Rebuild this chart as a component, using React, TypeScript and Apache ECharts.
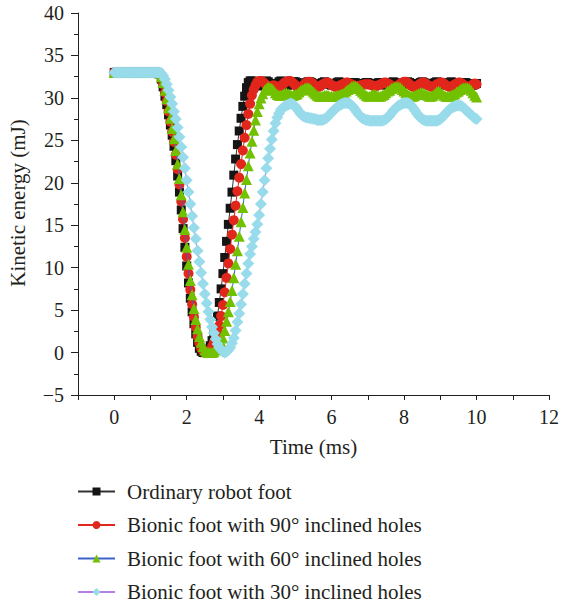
import React, { useEffect, useRef } from "react";
import * as echarts from "echarts";

const TIME_STEP_MS = 0.05;

const seriesNames = [
  "Ordinary robot foot",
  "Bionic foot with 90° inclined holes",
  "Bionic foot with 60° inclined holes",
  "Bionic foot with 30° inclined holes",
];

// Kinetic energy (mJ), sampled every 0.05 ms from 0 to 10 ms
const ordinaryFoot = [
  33.0, 33.0, 33.0, 33.0, 33.0, 33.0, 33.0, 33.0, 33.0, 33.0,
  33.0, 33.0, 33.0, 33.0, 33.0, 33.0, 33.0, 33.0, 33.0, 33.0,
  33.0, 33.0, 33.0, 33.0, 33.0, 32.8, 32.2, 31.3, 30.2, 29.2,
  28.0, 26.8, 25.6, 24.3, 22.6, 20.8, 18.9, 16.8, 14.6, 12.4,
  10.2, 8.2, 6.4, 4.8, 3.4, 2.2, 1.2, 0.5, 0.15, 0.0,
  0.0, 0.1, 0.4, 0.8, 1.4, 2.1, 2.8, 4.3, 5.9, 7.5,
  9.3, 11.2, 13.1, 15.1, 17.0, 18.9, 20.9, 22.8, 24.5, 26.1,
  27.6, 29.0, 30.2, 31.2, 31.8, 32.0, 32.0, 31.9, 31.7, 31.5,
  31.4, 31.5, 31.7, 31.9, 32.0, 31.9, 31.7, 31.5, 31.4, 31.5,
  31.7, 31.9, 32.0, 31.9, 31.7, 31.5, 31.5, 31.6, 31.8, 31.9,
  31.9, 31.8, 31.6, 31.5, 31.5, 31.6, 31.8, 31.9, 31.9, 31.8,
  31.6, 31.5, 31.5, 31.6, 31.7, 31.8, 31.9, 31.8, 31.7, 31.6,
  31.5, 31.6, 31.7, 31.8, 31.9, 31.8, 31.7, 31.6, 31.5, 31.6,
  31.7, 31.8, 31.8, 31.8, 31.7, 31.6, 31.6, 31.6, 31.7, 31.8,
  31.8, 31.7, 31.6, 31.6, 31.6, 31.7, 31.8, 31.8, 31.7, 31.6,
  31.5, 31.6, 31.7, 31.8, 31.9, 31.8, 31.7, 31.6, 31.5, 31.6,
  31.7, 31.8, 31.9, 31.8, 31.7, 31.6, 31.5, 31.6, 31.7, 31.8,
  31.9, 31.8, 31.7, 31.6, 31.5, 31.6, 31.7, 31.8, 31.9, 31.8,
  31.7, 31.6, 31.5, 31.6, 31.7, 31.8, 31.9, 31.8, 31.7, 31.6,
  31.5, 31.6, 31.7, 31.8, 31.8, 31.7, 31.6, 31.5, 31.5, 31.6,
  31.7,
];

const holes90 = [
  33.0, 33.0, 33.0, 33.0, 33.0, 33.0, 33.0, 33.0, 33.0, 33.0,
  33.0, 33.0, 33.0, 33.0, 33.0, 33.0, 33.0, 33.0, 33.0, 33.0,
  33.0, 33.0, 33.0, 33.0, 33.0, 32.9, 32.4, 31.6, 30.6, 29.6,
  28.4, 27.2, 26.0, 24.8, 23.3, 21.6, 19.8, 17.8, 15.7, 13.5,
  11.3, 9.3, 7.4, 5.7, 4.2, 3.0, 1.9, 1.1, 0.5, 0.2,
  0.0, 0.0, 0.1, 0.3, 0.7, 1.2, 1.8, 2.5, 3.2, 4.3,
  5.6, 7.1, 8.8, 10.5, 12.2, 13.9, 15.6, 17.3, 19.0, 20.6,
  22.2, 23.8, 25.3, 26.8, 28.1, 29.3, 30.3, 31.0, 31.5, 31.9,
  32.0, 32.0, 31.9, 31.7, 31.5, 31.3, 31.3, 31.4, 31.5, 31.4,
  31.3, 31.3, 31.4, 31.6, 31.8, 31.9, 32.0, 32.0, 31.9, 31.7,
  31.5, 31.3, 31.2, 31.3, 31.4, 31.6, 31.8, 31.9, 31.9, 31.8,
  31.6, 31.4, 31.3, 31.3, 31.4, 31.6, 31.7, 31.8, 31.8, 31.7,
  31.5, 31.4, 31.3, 31.3, 31.4, 31.5, 31.6, 31.7, 31.8, 31.8,
  31.7, 31.6, 31.5, 31.4, 31.4, 31.4, 31.5, 31.5, 31.6, 31.6,
  31.6, 31.6, 31.5, 31.4, 31.4, 31.4, 31.5, 31.6, 31.7, 31.8,
  31.8, 31.7, 31.6, 31.4, 31.3, 31.3, 31.4, 31.5, 31.7, 31.8,
  31.9, 31.9, 31.8, 31.6, 31.4, 31.3, 31.3, 31.4, 31.5, 31.7,
  31.8, 31.8, 31.7, 31.5, 31.4, 31.3, 31.3, 31.4, 31.6, 31.7,
  31.8, 31.8, 31.7, 31.5, 31.4, 31.3, 31.3, 31.4, 31.6, 31.7,
  31.8, 31.8, 31.7, 31.5, 31.4, 31.3, 31.3, 31.4, 31.6, 31.7,
  31.6,
];

const holes60 = [
  33.0, 33.0, 33.0, 33.0, 33.0, 33.0, 33.0, 33.0, 33.0, 33.0,
  33.0, 33.0, 33.0, 33.0, 33.0, 33.0, 33.0, 33.0, 33.0, 33.0,
  33.0, 33.0, 33.0, 33.0, 33.0, 32.9, 32.5, 31.8, 30.9, 29.9,
  28.8, 27.6, 26.4, 25.2, 23.8, 22.2, 20.5, 18.6, 16.6, 14.5,
  12.4, 10.4, 8.5, 6.8, 5.2, 3.9, 2.8, 1.9, 1.2, 0.7,
  0.3, 0.1, 0.0, 0.0, 0.0, 0.1, 0.3, 0.6, 0.9, 1.2,
  1.7, 2.6, 3.7, 4.8, 6.0, 7.3, 8.8, 10.4, 12.0, 13.7,
  15.4, 17.1, 18.8, 20.4, 22.0, 23.5, 24.9, 26.2, 27.4, 28.4,
  29.3, 30.0, 30.5, 30.9, 31.1, 31.3, 31.2, 31.1, 30.9, 30.6,
  30.4, 30.3, 30.3, 30.4, 30.5, 30.6, 30.5, 30.4, 30.3, 30.3,
  30.4, 30.5, 30.7, 30.9, 31.0, 31.1, 31.2, 31.2, 31.1, 30.9,
  30.7, 30.5, 30.3, 30.2, 30.2, 30.2, 30.3, 30.3, 30.3, 30.2,
  30.2, 30.2, 30.2, 30.3, 30.3, 30.4, 30.5, 30.6, 30.8, 31.0,
  31.1, 31.3, 31.4, 31.4, 31.3, 31.1, 30.9, 30.7, 30.5, 30.3,
  30.2, 30.2, 30.3, 30.4, 30.4, 30.3, 30.2, 30.2, 30.3, 30.4,
  30.6, 30.8, 30.9, 31.1, 31.2, 31.3, 31.3, 31.3, 31.2, 31.0,
  30.8, 30.6, 30.4, 30.3, 30.2, 30.2, 30.3, 30.4, 30.5, 30.6,
  30.6, 30.5, 30.4, 30.3, 30.2, 30.2, 30.3, 30.5, 30.7, 30.8,
  30.7, 30.5, 30.3, 30.2, 30.2, 30.2, 30.3, 30.4, 30.5, 30.7,
  30.8, 31.0, 31.1, 31.2, 31.2, 31.2, 31.1, 30.9, 30.6, 30.3,
  30.1,
];

const holes30 = [
  33.0, 33.0, 33.0, 33.0, 33.0, 33.0, 33.0, 33.0, 33.0, 33.0,
  33.0, 33.0, 33.0, 33.0, 33.0, 33.0, 33.0, 33.0, 33.0, 33.0,
  33.0, 33.0, 33.0, 33.0, 33.0, 33.0, 32.9, 32.6, 32.2, 31.6,
  30.9, 30.1, 29.3, 28.4, 27.5, 26.5, 25.4, 24.2, 23.0, 21.7,
  20.3, 18.9, 17.5, 16.1, 14.7, 13.4, 12.0, 10.7, 9.4, 8.1,
  6.9, 5.8, 4.8, 3.9, 3.0, 2.3, 1.6, 1.0, 0.6, 0.3,
  0.1, 0.0, 0.1, 0.3, 0.6, 1.1, 1.7, 2.6, 3.6, 4.6,
  5.7, 6.9, 8.1, 9.3, 10.5, 11.6, 12.5, 13.4, 14.2, 15.1,
  16.2, 17.5, 18.9, 20.3, 21.7, 22.9, 24.0, 25.1, 26.1, 27.0,
  27.7, 28.2, 28.6, 28.8, 29.0, 29.1, 29.2, 29.3, 29.3, 29.2,
  29.0, 28.7, 28.4, 28.1, 27.9, 27.8, 27.7, 27.7, 27.6, 27.6,
  27.5, 27.5, 27.4, 27.4, 27.4, 27.4, 27.5, 27.6, 27.8, 28.0,
  28.3, 28.5, 28.7, 28.9, 29.1, 29.2, 29.3, 29.4, 29.4, 29.4,
  29.3, 29.1, 28.9, 28.6, 28.3, 28.0, 27.8, 27.6, 27.5, 27.4,
  27.4, 27.3, 27.3, 27.3, 27.3, 27.3, 27.3, 27.3, 27.3, 27.4,
  27.5, 27.7, 27.9, 28.2, 28.5, 28.7, 28.9, 29.1, 29.2, 29.3,
  29.4, 29.4, 29.4, 29.3, 29.1, 28.8, 28.5, 28.2, 27.9, 27.7,
  27.5, 27.4, 27.3, 27.3, 27.3, 27.3, 27.3, 27.3, 27.3, 27.4,
  27.5, 27.7, 27.9, 28.2, 28.4, 28.6, 28.8, 28.9, 29.0, 29.1,
  29.1, 29.1, 29.0, 28.8, 28.6, 28.4, 28.2, 28.0, 27.8, 27.6,
  27.5,
];

const seriesValues = [ordinaryFoot, holes90, holes60, holes30];
const symbols = ["rect", "circle", "triangle", "diamond"];
const symbolSizes = [9, 10, 11, 12];
const markerColors = ["#151515", "#e1261c", "#72c100", "#98dbeb"];
const lineColors = ["#333333", "#e1261c", "#3a63cc", "#b47fde"];

const FONT = "'Liberation Serif', 'Times New Roman', serif";
const TEXT_COLOR = "#231f20";

export default function App() {
  const ref = useRef<HTMLDivElement>(null);

  useEffect(() => {
    document.body.style.margin = "0";
    if (!ref.current) return;
    const chart = echarts.init(ref.current, null, { renderer: "svg" });

    const series = seriesValues.map((vals, si) => ({
      name: seriesNames[si],
      type: "line",
      data: vals.map((v, i) => [Number((i * TIME_STEP_MS).toFixed(2)), v]),
      symbol: symbols[si],
      symbolSize: symbolSizes[si],
      showAllSymbol: true,
      lineStyle: { color: lineColors[si], width: 1 },
      itemStyle: { color: markerColors[si], borderWidth: 0 },
      z: 2 + si,
    }));

    chart.setOption({
      animation: false,
      grid: { left: 78, right: 9, top: 13, bottom: 210 },
      xAxis: {
        type: "value",
        min: -1,
        max: 12,
        interval: 1,
        name: "Time (ms)",
        nameLocation: "middle",
        nameGap: 41,
        nameTextStyle: { fontFamily: FONT, fontSize: 21, color: TEXT_COLOR },
        axisLine: { show: true, onZero: false, lineStyle: { color: TEXT_COLOR, width: 1 } },
        axisTick: { show: true, length: 5, lineStyle: { color: TEXT_COLOR } },
        axisLabel: {
          fontFamily: FONT,
          fontSize: 20,
          color: TEXT_COLOR,
          margin: 12,
          formatter: (v: number) => (v >= 0 && v % 2 === 0 ? String(v) : ""),
        },
        splitLine: { show: false },
      },
      yAxis: {
        type: "value",
        min: -5,
        max: 40,
        interval: 5,
        axisLine: { show: true, onZero: false, lineStyle: { color: TEXT_COLOR, width: 1 } },
        axisTick: { show: true, length: 7, lineStyle: { color: TEXT_COLOR } },
        minorTick: { show: true, splitNumber: 2, length: 4, lineStyle: { color: TEXT_COLOR } },
        axisLabel: {
          fontFamily: FONT,
          fontSize: 20,
          color: TEXT_COLOR,
          margin: 14,
          formatter: (v: number) => (v < 0 ? "\u2212" + Math.abs(v) : String(v)),
        },
        splitLine: { show: false },
      },
      legend: {
        orient: "vertical",
        left: 77,
        top: 481,
        padding: 0,
        itemWidth: 37,
        itemHeight: 10,
        itemGap: 12.5,
        textStyle: {
          fontFamily: FONT,
          fontSize: 21,
          color: TEXT_COLOR,
          lineHeight: 20,
          padding: [0, 0, 0, 7],
        },
        data: seriesNames,
      },
      graphic: [
        {
          type: "text",
          x: 18,
          y: 203,
          rotation: Math.PI / 2,
          style: {
            text: "Kinetic energy (mJ)",
            font: `21px ${FONT}`,
            fill: TEXT_COLOR,
            textAlign: "center",
            textVerticalAlign: "middle",
          },
        },
      ],
      series,
    });

    return () => chart.dispose();
  }, []);

  return <div ref={ref} style={{ width: 562, height: 605 }} />;
}
